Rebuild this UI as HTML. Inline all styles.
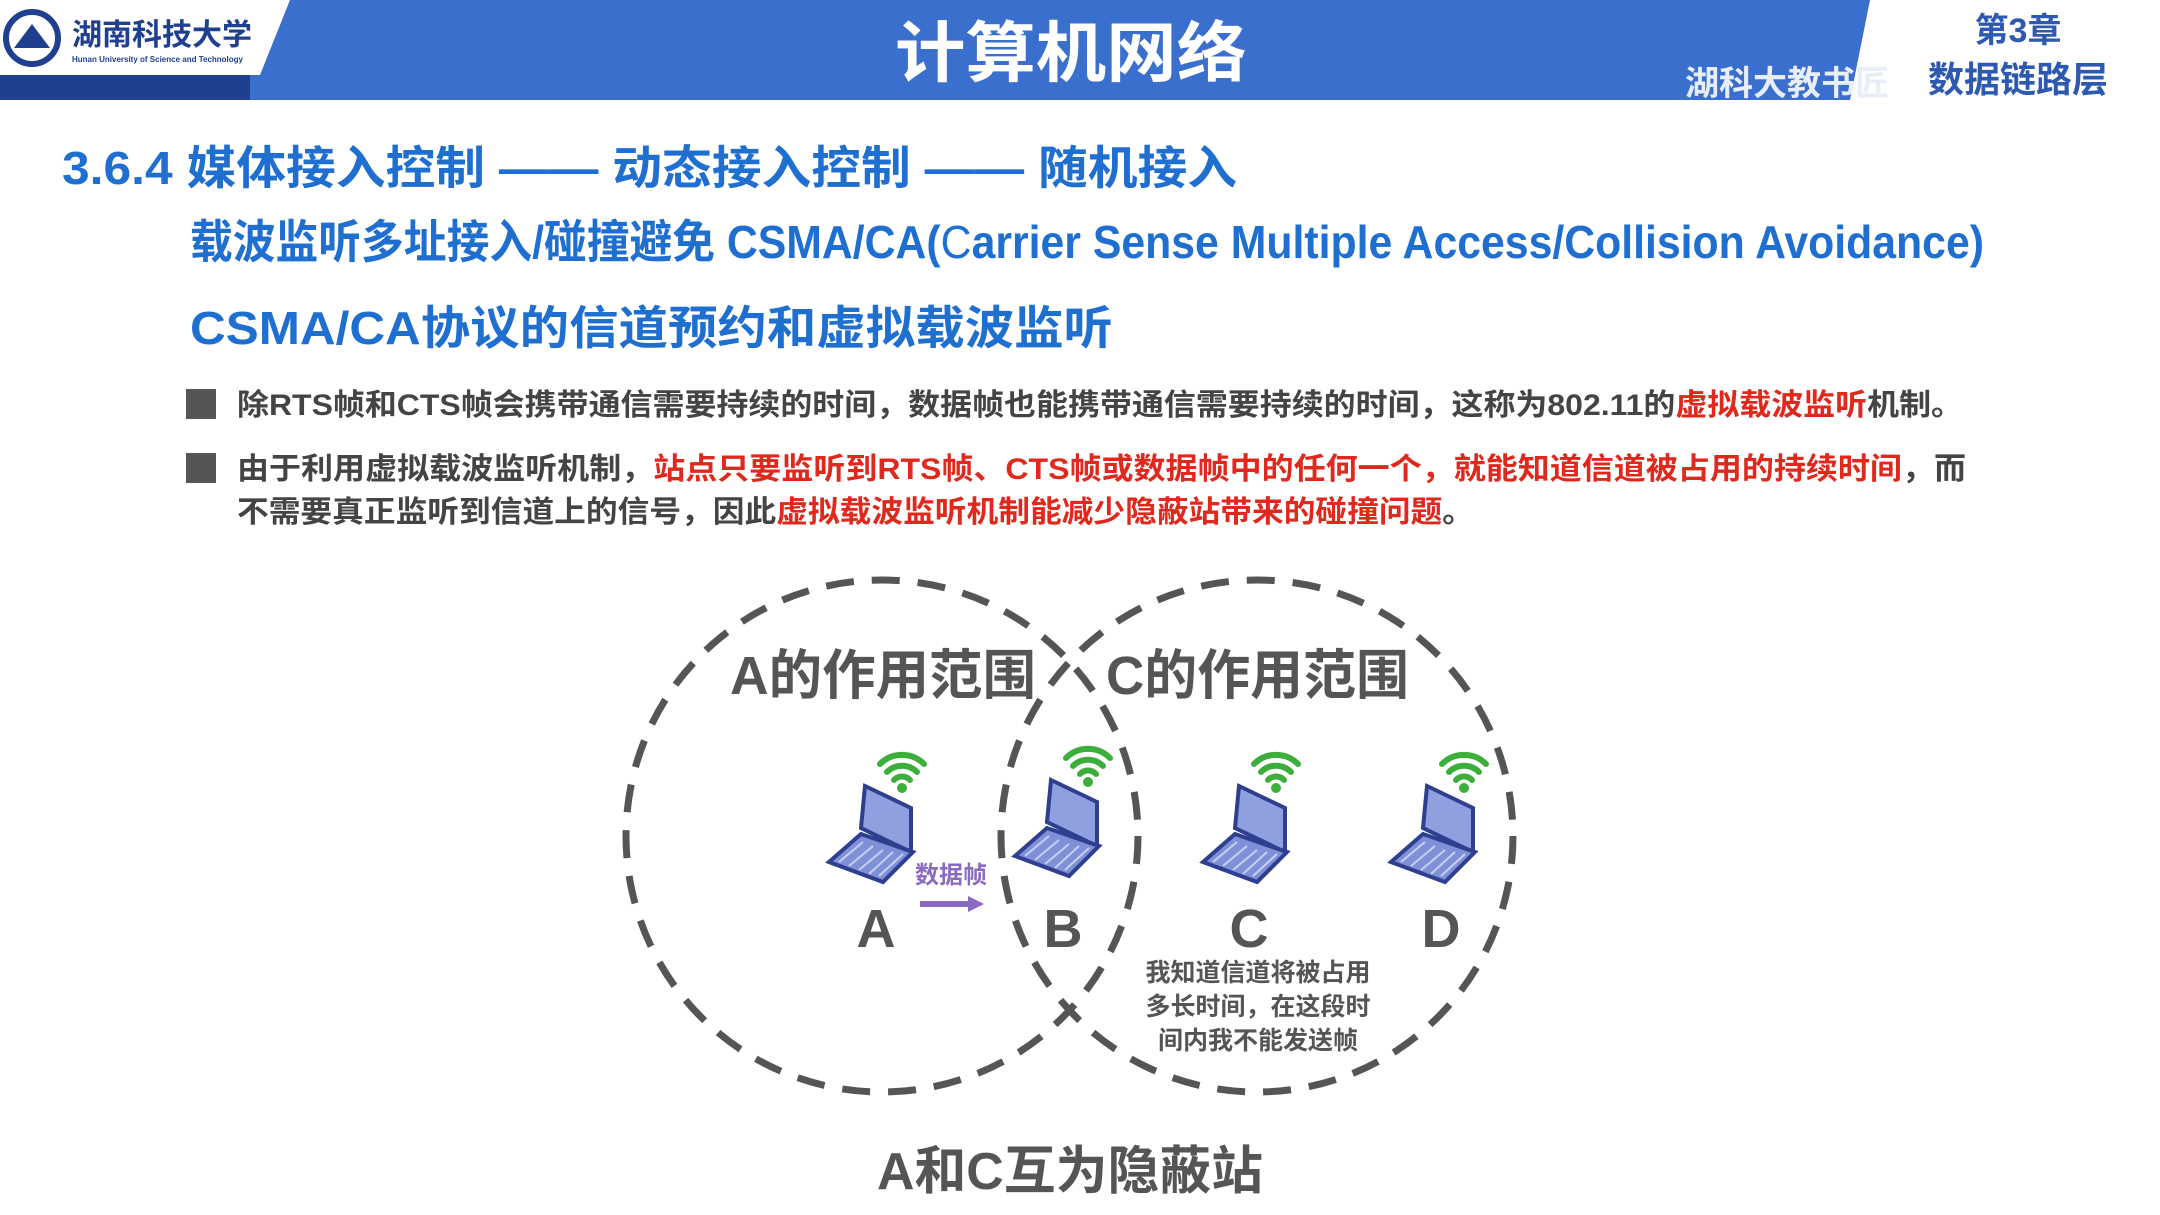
<!DOCTYPE html>
<html><head><meta charset="utf-8"><style>
html,body{margin:0;padding:0;background:#fff;}
svg{display:block;}
text{font-family:"Liberation Sans","Noto Sans CJK SC",sans-serif;font-weight:bold;}
</style></head><body>
<svg width="2160" height="1215" viewBox="0 0 2160 1215" xmlns="http://www.w3.org/2000/svg">
<defs>
<g id="lap">
  <path d="M-14,-10 L-10,-52 L36,-30 L36,14 Z" fill="#8f9fe0" stroke="#2f3f8f" stroke-width="4"/>
  <path d="M-46,24 L-14,-4 L38,14 L8,44 Z" fill="#7f8fd8" stroke="#2f3f8f" stroke-width="4"/>
  <path d="M-36,24 L-12,4 M-26,28 L-2,8 M-16,32 L8,12 M-6,36 L18,14 M4,38 L28,16" stroke="#c8d0f0" stroke-width="2"/>
  <g fill="none" stroke="#3cae3c" stroke-width="6" stroke-linecap="round">
    <path d="M19,-58 A11,11 0 0 1 35,-58"/>
    <path d="M12,-66 A21,21 0 0 1 42,-66"/>
    <path d="M5,-74 A31,31 0 0 1 49,-74"/>
  </g>
  <circle cx="27" cy="-50" r="5" fill="#3cae3c"/>
</g>
</defs>
<!-- header -->
<rect x="0" y="0" width="2160" height="100" fill="#fff"/>
<polygon points="250,0 1870,0 1850,100 240,100" fill="#3b6fce"/>
<rect x="0" y="75" width="250" height="25" fill="#1f3f8f"/>
<polygon points="0,0 290,0 260,75 0,75" fill="#fff"/>
<circle cx="32" cy="38" r="26" fill="#fff" stroke="#1f3f8f" stroke-width="6"/>
<path d="M14,48 L32,24 L50,48 Z" fill="#1f3f8f"/>
<text x="72" y="45" font-size="30" fill="#1f3f8f" font-family="Liberation Serif,'Noto Serif CJK SC',serif">湖南科技大学</text>
<text x="72" y="62" font-size="8" fill="#1f3f8f" font-weight="normal">Hunan University of Science and Technology</text>
<text x="895" y="76" font-size="66" fill="#fff" textLength="352" lengthAdjust="spacingAndGlyphs">计算机网络</text>
<text x="1685" y="95" font-size="34" fill="#e8eef8">湖科大教书匠</text>
<text x="2018" y="42" font-size="34" fill="#2d5ab0" text-anchor="middle">第3章</text>
<text x="2018" y="92" font-size="36" fill="#2d5ab0" text-anchor="middle">数据链路层</text>
<!-- headings -->
<text x="62" y="184" font-size="46" fill="#1f6fd1" textLength="1175" lengthAdjust="spacingAndGlyphs">3.6.4 媒体接入控制 —— 动态接入控制 —— 随机接入</text>
<text x="190" y="258" font-size="46" fill="#1f6fd1" textLength="1794" lengthAdjust="spacingAndGlyphs">载波监听多址接入/碰撞避免 CSMA/CA(<tspan font-weight="normal">C</tspan>arrier <tspan>S</tspan>ense <tspan>M</tspan>ultiple <tspan>A</tspan>ccess/<tspan>C</tspan>ollision <tspan>A</tspan>voidance)</text>
<text x="190" y="344" font-size="46" fill="#1f6fd1" textLength="923" lengthAdjust="spacingAndGlyphs">CSMA/CA协议的信道预约和虚拟载波监听</text>
<!-- bullets -->
<rect x="186" y="389" width="30" height="30" fill="#555"/>
<text x="237" y="415" font-size="30" fill="#444" textLength="1726" lengthAdjust="spacingAndGlyphs">除RTS帧和CTS帧会携带通信需要持续的时间，数据帧也能携带通信需要持续的时间，这称为802.11的<tspan fill="#e0281c">虚拟载波监听</tspan>机制。</text>
<rect x="186" y="453" width="30" height="30" fill="#555"/>
<text x="237" y="479" font-size="30" fill="#444" textLength="1729" lengthAdjust="spacingAndGlyphs">由于利用虚拟载波监听机制，<tspan fill="#e0281c">站点只要监听到RTS帧、CTS帧或数据帧中的任何一个，就能知道信道被占用的持续时间</tspan>，而</text>
<text x="237" y="522" font-size="30" fill="#444" textLength="1237" lengthAdjust="spacingAndGlyphs">不需要真正监听到信道上的信号，因此<tspan fill="#e0281c">虚拟载波监听机制能减少隐蔽站带来的碰撞问题</tspan>。</text>
<!-- circles -->
<g fill="none" stroke="#555" stroke-width="7" stroke-dasharray="28 18">
  <circle cx="882" cy="836" r="256"/>
  <circle cx="1257" cy="836" r="256"/>
</g>
<text x="730" y="694" font-size="54" fill="#555" textLength="306" lengthAdjust="spacingAndGlyphs">A的作用范围</text>
<text x="1106" y="694" font-size="54" fill="#555" textLength="303" lengthAdjust="spacingAndGlyphs">C的作用范围</text>
<use href="#lap" x="875" y="838"/>
<use href="#lap" x="1061" y="832"/>
<use href="#lap" x="1249" y="838"/>
<use href="#lap" x="1437" y="838"/>
<g font-size="54" fill="#555" text-anchor="middle">
<text x="876" y="947">A</text><text x="1063" y="947">B</text><text x="1249" y="947">C</text><text x="1441" y="947">D</text>
</g>
<text x="951" y="883" font-size="24" fill="#8a6bbf" text-anchor="middle">数据帧</text>
<line x1="920" y1="904" x2="972" y2="904" stroke="#8a6bbf" stroke-width="6"/>
<path d="M968,896 L984,904 L968,912 Z" fill="#8a6bbf"/>
<g font-size="25" fill="#555" text-anchor="middle">
<text x="1258" y="981">我知道信道将被占用</text>
<text x="1258" y="1015">多长时间，在这段时</text>
<text x="1258" y="1049">间内我不能发送帧</text>
</g>
<text x="877" y="1189" font-size="52" fill="#555" textLength="386" lengthAdjust="spacingAndGlyphs">A和C互为隐蔽站</text>
</svg>
</body></html>
